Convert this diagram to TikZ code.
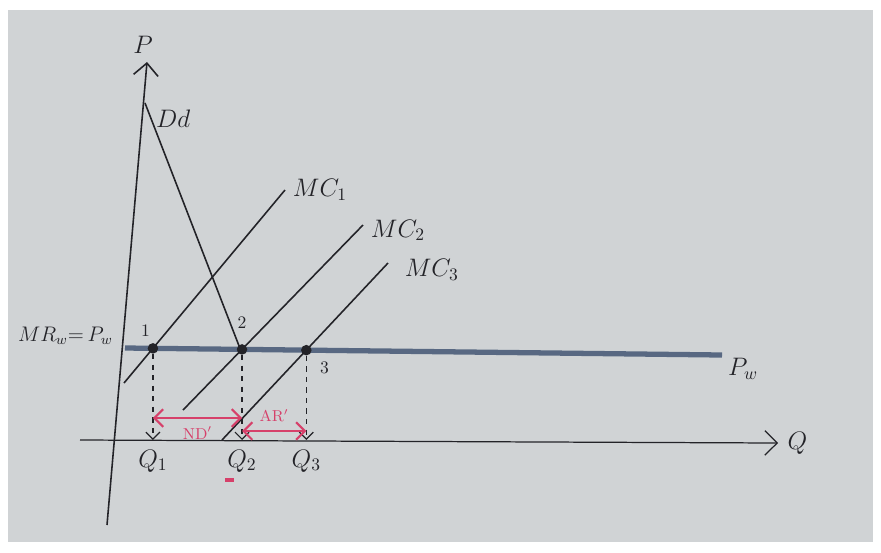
\documentclass[tikz,border=0pt]{standalone}
\usepackage{amsmath}
\usetikzlibrary{arrows.meta,positioning,calc}
\definecolor{board}{RGB}{208,211,213}
\definecolor{pwline}{RGB}{88,104,130}
\definecolor{marker}{RGB}{214,64,106}
\definecolor{ink}{RGB}{35,35,40}

\begin{document}
\begin{tikzpicture}[
    x=0.02cm, y=-0.02cm,
    pen/.style={draw=ink, line width=0.9pt},
    guide/.style={draw=ink, dashed, line width=0.7pt, -{Straight Barb[length=4pt]}},
    redarrow/.style={draw=marker, line width=1.2pt, {Straight Barb[length=5pt]}-{Straight Barb[length=5pt]}},
    dot/.style={circle, fill=ink, inner sep=0pt, minimum size=6pt},
    lbl/.style={text=ink, font=\Large},
    redlbl/.style={text=marker, font=\small},
]
\fill[white] (0,0) rectangle (881,552);
\fill[board] (8,10) rectangle (873,542);
\useasboundingbox (0,0) rectangle (881,552);

% axes
\coordinate (pbot) at (107,525);
\coordinate (ptop) at (147,62);
\coordinate (qleft) at (80,440);
\coordinate (qright) at (778,443);
\draw[pen, -{Straight Barb[length=7pt]}] (pbot) -- (ptop);
\draw[pen, line width=0.7pt, -{Straight Barb[length=7pt]}] (qleft) -- (qright);
\node[lbl] (plabel) at (143,45) {$P$};
\node[lbl, right=2pt of qright] (qlabel) {$Q$};

% world price
\coordinate (pws) at (125,348);
\coordinate (pwe) at (722,355);
\draw[pwline, line width=3pt] (pws) -- (pwe);
\node[lbl, right=0pt of pwe, yshift=-8pt] (pwlabel) {$P_w$};
\node[text=ink, font=\large, anchor=west, inner sep=1pt] (mrlabel) at (16,336) {$MR_w{=}\,P_w$};

% domestic demand and marginal costs
\coordinate (dds) at (145,103);
\coordinate (dde) at (241,351);
\coordinate (mc1s) at (124,383);
\coordinate (mc1e) at (285,190);
\coordinate (mc2s) at (183,410);
\coordinate (mc2e) at (363,225);
\coordinate (mc3s) at (222,440);
\coordinate (mc3e) at (388,263);
\draw[pen] (dds) -- (dde);
\draw[pen] (mc1s) -- (mc1e);
\draw[pen] (mc2s) -- (mc2e);
\draw[pen] (mc3s) -- (mc3e);
\node[lbl, anchor=north west] (ddlabel) at (150,104) {$Dd$};
\node[lbl, right=1pt of mc1e] (mc1label) {$MC_1$};
\node[lbl, right=1pt of mc2e, yshift=-3pt] (mc2label) {$MC_2$};
\node[lbl, right=6pt of mc3e, yshift=-4pt] (mc3label) {$MC_3$};

% equilibria
\node[dot] (e1) at (intersection of mc1s--mc1e and pws--pwe) {};
\node[dot] (e2) at (intersection of mc2s--mc2e and pws--pwe) {};
\node[dot] (e3) at (intersection of mc3s--mc3e and pws--pwe) {};
\node[text=ink, above left=1pt and -4pt of e1] (n1) {1};
\node[text=ink, above=5pt of e2] (n2) {2};
\node[text=ink, below right=1pt and 2pt of e3] (n3) {3};

\coordinate (qlvl) at (0,440);
\coordinate (q1) at (e1 |- qlvl);
\coordinate (q2) at (e2 |- qlvl);
\coordinate (q3) at (e3 |- qlvl);
\draw[guide] (e1) -- (q1);
\draw[guide] (e2) -- (q2);
\draw[guide] (e3) -- (q3);
\node[lbl, below=2pt of q1] (Q1) {$Q_1$};
\node[lbl, below=2pt of q2] (Q2) {$Q_2$};
\node[lbl, below=2pt of q3] (Q3) {$Q_3$};
\draw[marker, line width=2.5pt] ($(Q2.south west)+(4,2)$) -- ++(9,0);

% quantities
\coordinate (r1) at (0,418);
\coordinate (r2) at (0,431);
\draw[redarrow] (e1 |- r1) -- (e2 |- r1) node[redlbl, midway, below=1pt] (nd) {ND$'$};
\draw[redarrow] (e2 |- r2) -- (e3 |- r2) node[redlbl, midway, above=1pt] (ar) {AR$'$};
\end{tikzpicture}
\end{document}
